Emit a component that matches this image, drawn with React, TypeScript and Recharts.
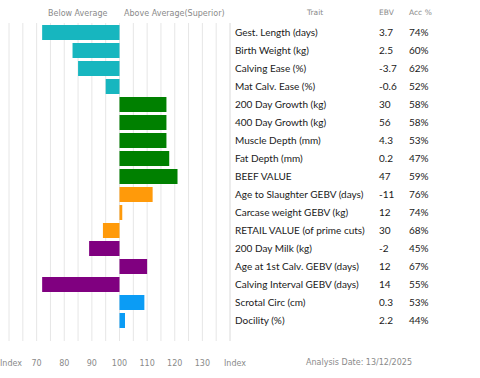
import React from 'react';
import { BarChart, Bar, XAxis, YAxis, CartesianGrid, Cell } from 'recharts';

// trait rows, top to bottom
const traits = [
    'Gest. Length (days)', 'Birth Weight (kg)', 'Calving Ease (%)', 'Mat Calv. Ease (%)',
    '200 Day Growth (kg)', '400 Day Growth (kg)', 'Muscle Depth (mm)', 'Fat Depth (mm)',
    'BEEF VALUE', 'Age to Slaughter GEBV (days)', 'Carcase weight GEBV (kg)',
    'RETAIL VALUE (of prime cuts)', '200 Day Milk (kg)', 'Age at 1st Calv. GEBV (days)',
    'Calving Interval GEBV (days)', 'Scrotal Circ (cm)', 'Docility (%)',
];
const ebv = ['3.7', '2.5', '-3.7', '-0.6', '30', '56', '4.3', '0.2', '47', '-11', '12', '30', '-2', '12', '14', '0.3', '2.2'];
const acc = ['74%', '60%', '62%', '52%', '58%', '58%', '53%', '47%', '59%', '76%', '74%', '68%', '45%', '67%', '55%', '53%', '44%'];
// index scores (100 = average)
const indexValues = [72, 83, 85, 95, 117, 117, 117, 118, 121, 112, 101, 94, 89, 110, 72, 109, 102];
const groups = ['calving', 'calving', 'calving', 'calving', 'growth', 'growth', 'growth', 'growth', 'growth',
    'carcase', 'carcase', 'carcase', 'maternal', 'maternal', 'maternal', 'other', 'other'];
const groupColors: Record<string, string> = {
    calving: '#17b6bf',
    growth: '#008000',
    carcase: '#ff9a0a',
    maternal: '#800080',
    other: '#0b9cf5',
};
const xTicks = [60, 65, 70, 75, 80, 85, 90, 95, 100, 105, 110, 115, 120, 125, 130, 135, 140];

const AVG = 100;

const data = traits.map((t, i) => ({
    trait: t,
    range: [Math.min(AVG, indexValues[i]), Math.max(AVG, indexValues[i])],
    ebv: ebv[i],
    acc: acc[i],
    group: groups[i],
}));

const tableFont = 'Lato, "Open Sans", sans-serif';
const grayFont = '"DejaVu Sans", Verdana, sans-serif';

// bottom axis: numbers every 10, "Index" at both ends
const IndexTick = ({ x, y, payload }: any) => {
    const v = payload.value;
    let text = '';
    let anchor: 'start' | 'middle' = 'middle';
    let tx = x;
    if (v === 60) { text = 'Index'; anchor = 'start'; tx = 0; }
    else if (v === 140) { text = 'Index'; anchor = 'start'; tx = x - 6; }
    else if (v % 10 === 0) text = String(v);
    if (!text) return null;
    return (
        <text x={tx} y={y} dy="0.71em" textAnchor={anchor} fill="#8a8a8a" fontSize={8} fontFamily={grayFont}>
            {text}
        </text>
    );
};

// right axis tick = one table row
const RowTick = ({ x, y, index }: any) => {
    const row = data[index];
    if (!row) return null;
    return (
        <g fontFamily={tableFont} fontSize={10}>
            <text x={x + 5} y={y} dy="0.35em" fill="#1a1a1a">{row.trait}</text>
            <text x={x + 149} y={y} dy="0.35em" fill="#1a1a1a">{row.ebv}</text>
            <text x={x + 179} y={y} dy="0.35em" fill="#1a1a1a">{row.acc}</text>
        </g>
    );
};

const label = (left: number, top: number, size = 8): React.CSSProperties => ({
    position: 'absolute', left, top, fontFamily: grayFont, fontSize: size, color: '#8a8a8a',
    whiteSpace: 'nowrap', lineHeight: 1,
});

export default function App() {
    return (
        <div style={{ position: 'absolute', left: 0, top: 0, width: 480, height: 378, background: '#fff' }}>
            <div style={label(48, 10)}>Below Average</div>
            <div style={label(124, 10)}>Above Average(Superior)</div>
            <div style={label(307, 9, 7.5)}>Trait</div>
            <div style={label(379, 9, 7.5)}>EBV</div>
            <div style={label(409, 9, 7.5)}>Acc %</div>
            <div style={label(306, 359)}>Analysis Date: 13/12/2025</div>
            <BarChart
                width={480}
                height={378}
                data={data}
                layout="vertical"
                margin={{ top: 23, right: 0, left: 9, bottom: 7 }}
                barCategoryGap={1.5}
            >
                <CartesianGrid horizontal={false} stroke="#e6e6e6" />
                <XAxis
                    type="number"
                    domain={[60, 140]}
                    ticks={xTicks}
                    interval={0}
                    axisLine={false}
                    tickLine={false}
                    height={30}
                    tickMargin={13}
                    tick={<IndexTick />}
                />
                <YAxis
                    type="category"
                    dataKey="trait"
                    orientation="right"
                    width={250}
                    interval={0}
                    tickLine={false}
                    tickSize={0}
                    tickMargin={0}
                    axisLine={{ stroke: '#e6e6e6' }}
                    padding={{ top: 0, bottom: 12 }}
                    tick={<RowTick />}
                />
                <Bar dataKey="range" barSize={15} isAnimationActive={false}>
                    {data.map((d, i) => (
                        <Cell key={i} fill={groupColors[d.group]} />
                    ))}
                </Bar>
            </BarChart>
        </div>
    );
}
